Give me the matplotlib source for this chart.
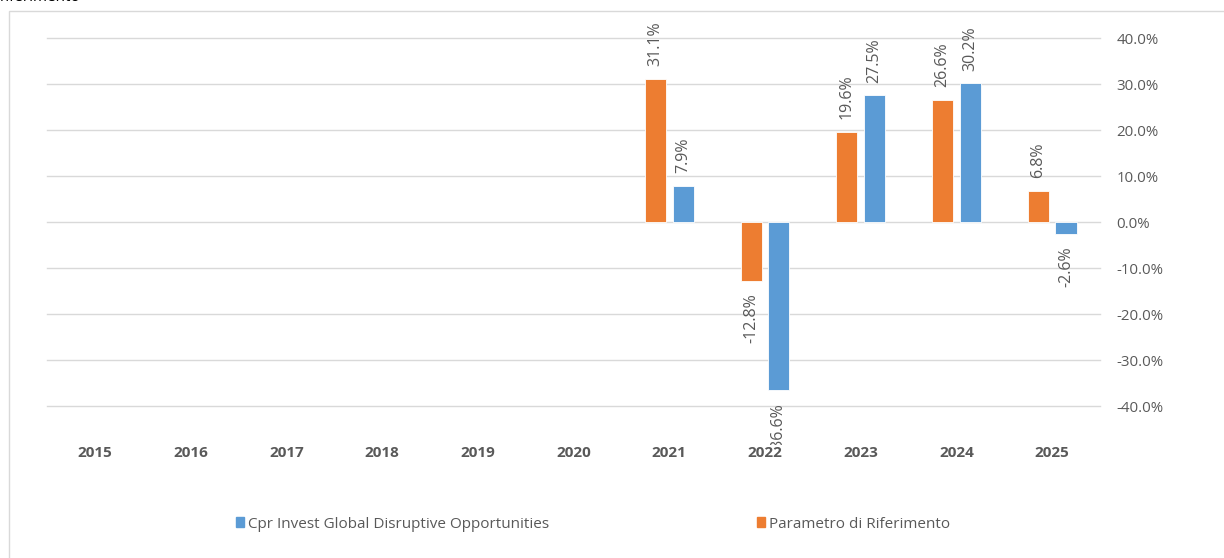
import numpy as np
import matplotlib
matplotlib.use('Agg')
import matplotlib.pyplot as plt
from matplotlib.patches import Rectangle, Patch

plt.rcParams['font.family'] = ['Open Sans', 'DejaVu Sans']

# Data
years = ['2015', '2016', '2017', '2018', '2019', '2020', '2021', '2022', '2023', '2024', '2025']
fondo = [np.nan] * 6 + [7.9, -36.6, 27.5, 30.2, -2.6]        # Cpr Invest Global Disruptive Opportunities
benchmark = [np.nan] * 6 + [31.1, -12.8, 19.6, 26.6, 6.8]    # Parametro di Riferimento
fondo_name = 'Cpr Invest Global Disruptive Opportunities'
bench_name = 'Parametro di Riferimento'
yticks = [-40, -30, -20, -10, 0, 10, 20, 30, 40]

blue = '#5B9BD5'
orange = '#ED7D31'
grey_txt = '#595959'
grid_col = '#D9D9D9'

W, H = 1224, 558
fig = plt.figure(figsize=(W / 100, H / 100), dpi=100)

# chart frame (partially cut like the source)
fig.patches.append(Rectangle((9 / W, -0.05), 1.2, 1 - 11 / H + 0.05, transform=fig.transFigure,
                             fill=False, edgecolor=grid_col, linewidth=1.0))
fig.text(0.0, 1 + 2.5 / H, 'riferimento', fontsize=11, color='#000000', va='center', ha='left')

ax = fig.add_axes([47 / W, 1 - 406 / H, (1100 - 47) / W, (406 - 38) / H])

x = np.arange(len(years))
bw = 0.22
off = 0.145
b_or = ax.bar(x - off, benchmark, bw, color=orange, edgecolor='white', linewidth=0.6, zorder=3)
b_bl = ax.bar(x + off, fondo, bw, color=blue, edgecolor='white', linewidth=0.6, zorder=3)

for bars, vals in [(b_or, benchmark), (b_bl, fondo)]:
    for rect, v in zip(bars, vals):
        if np.isnan(v):
            continue
        cx = rect.get_x() + rect.get_width() / 2
        if v >= 0:
            ax.annotate(f'{v:.1f}%', (cx, v), xytext=(0, 9), textcoords='offset points',
                        rotation=90, ha='center', va='bottom', fontsize=11.5, color=grey_txt, zorder=4)
        else:
            ax.annotate(f'{v:.1f}%', (cx, v), xytext=(0, -9), textcoords='offset points',
                        rotation=90, ha='center', va='top', fontsize=11.5, color=grey_txt, zorder=4)

ax.set_xlim(-0.5, len(years) - 0.5)
ax.set_ylim(-40, 40)
ax.set_yticks(yticks)
ax.set_yticklabels([f'{t:.1f}%' for t in yticks])
ax.yaxis.tick_right()
ax.grid(axis='y', color=grid_col, linewidth=1.0)
for gl in ax.get_ygridlines():
    gl.set_clip_on(False)
ax.set_xticks(x)
ax.set_xticklabels(years, fontweight='bold')
for lbl in ax.get_xticklabels():
    lbl.set_bbox(dict(facecolor='white', edgecolor='none', pad=1))
ax.xaxis.set_zorder(5)  # year labels sit on top of the data labels, as in the source
ax.tick_params(axis='x', length=0, pad=29, labelsize=11, labelcolor=grey_txt)
ax.tick_params(axis='y', length=0, pad=12, labelsize=10.8, labelcolor=grey_txt)
for s in ax.spines.values():
    s.set_visible(False)

leg_y = 1 - 524 / H
l1 = fig.legend(handles=[Patch(color=blue, label=fondo_name)], loc='center left',
                bbox_to_anchor=(236 / W, leg_y), frameon=False, fontsize=11,
                handlelength=0.55, handleheight=0.55, handletextpad=0.25,
                borderpad=0, borderaxespad=0, labelcolor=grey_txt)
l2 = fig.legend(handles=[Patch(color=orange, label=bench_name)], loc='center left',
                bbox_to_anchor=(757 / W, leg_y), frameon=False, fontsize=11,
                handlelength=0.55, handleheight=0.55, handletextpad=0.25,
                borderpad=0, borderaxespad=0, labelcolor=grey_txt)

fig.savefig('out.png', dpi=100)
